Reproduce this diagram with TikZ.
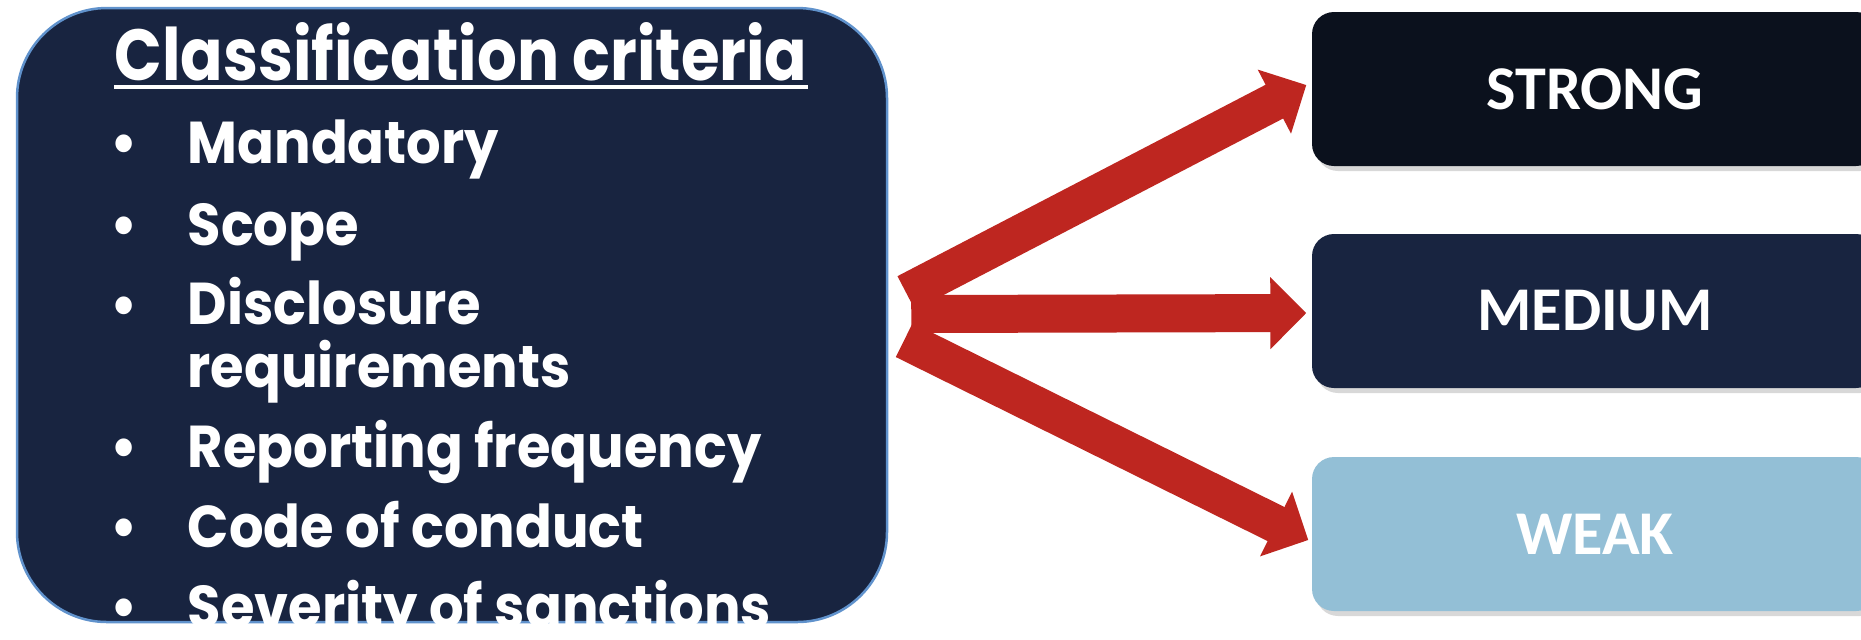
\documentclass[tikz,border=0pt]{standalone}
\usepackage{fontspec}
\newfontfamily\critfont{Poppins}[FakeStretch=0.92]
\newfontfamily\titlefont{Poppins}[FakeStretch=0.865]
\newfontfamily\levelfont{Carlito}
\usetikzlibrary{arrows.meta,shadows}
\definecolor{navy}{RGB}{24,36,64}
\definecolor{strongc}{RGB}{11,17,29}
\definecolor{weakc}{RGB}{147,191,214}
\definecolor{arrowred}{RGB}{190,38,32}
\definecolor{critline}{RGB}{96,146,204}
\begin{document}
\begin{tikzpicture}[x=0.1mm,y=-0.1mm,
	critbox/.style={fill=navy, draw=critline, line width=0.25mm, rounded corners=9mm, minimum width=87mm, minimum height=61.4mm},
	levelbox/.style={rounded corners=2.2mm, minimum width=56.6mm, minimum height=15.4mm, text=white,
		font=\levelfont\bfseries\fontsize{17.7}{20}\selectfont,
		drop shadow={shadow xshift=0.4mm, shadow yshift=-0.5mm, opacity=0.3}},
	item/.style={anchor=base west, inner sep=0pt, text=white, align=left,
		font=\critfont\bfseries\fontsize{16.8}{17.9}\selectfont},
	bigarrow/.style={draw=arrowred, line width=3.8mm, -{Triangle[length=3.6mm,width=7mm]}}]
	\useasboundingbox (0,0) rectangle (1861,639);
	\clip (0,0) rectangle (1861,639);
	\fill[white] (0,0) rectangle (1861,639);
	% criteria box
	\node[critbox] (crit) at (452,315) {};
	\node[item, font=\titlefont\bfseries\fontsize{20.6}{22}\selectfont] (title) at (114,80) {Classification criteria};
	\draw[white, line width=0.9pt] ([yshift=-2pt]title.base west) -- ([yshift=-2pt]title.base east);
	\foreach \y/\yt/\txt [count=\i] in {163/163/Mandatory, 245/245/Scope, 325/387/{Disclosure\\requirements},
		467/467/Reporting frequency, 547/547/Code of conduct, 627/627/Severity of sanctions}{
		\node[item] (dot\i) at (110,\y) {•};
		\node[item] (crit\i) at (187,\yt) {\txt};
	}
	% levels
	\node[levelbox, fill=strongc] (strong) at (1595,89) {STRONG};
	\node[levelbox, fill=navy] (medium) at (1595,311) {MEDIUM};
	\node[levelbox, fill=weakc] (weak) at (1595,534) {WEAK};
	% arrows
	\draw[bigarrow] ([shift={(23,-1)}]crit.east) -- ([shift={(-5,2)}]medium.west);
	\draw[bigarrow] ([shift={(18,-22)}]crit.east) -- ([shift={(-5,-4)}]strong.west);
	\draw[bigarrow] ([shift={(16,25)}]crit.east) -- ([shift={(-3,6)}]weak.west);
\end{tikzpicture}
\end{document}
